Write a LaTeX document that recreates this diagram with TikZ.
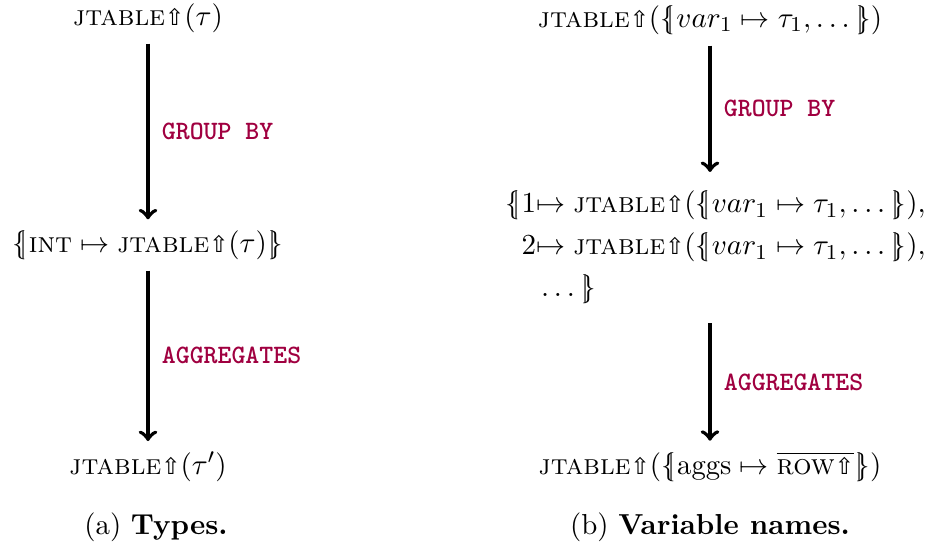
\documentclass[tikz,border=0pt]{standalone}
\usepackage{amsmath}
\usepackage{fontspec}
\newfontfamily\djv{DejaVu Sans}
\definecolor{kw}{RGB}{160,0,64}
\newcommand{\upar}{{\djv\fontsize{8.6}{8.6}\selectfont ⇧}}
\newcommand{\lbg}{\{\mkern-5mu|\mkern1mu}
\newcommand{\rbg}{\mkern1mu|\mkern-5mu\}}
\newcommand{\jt}{\text{\textsc{jtable}\upar}}
\tikzset{
  txt/.style={inner xsep=0pt, inner ysep=4pt, font=\fontsize{10.8}{13}\selectfont},
  arr/.style={->, line width=1.5pt},
  lbl/.style={right, inner xsep=4.5pt, text=kw, font=\fontsize{10}{12}\selectfont\ttfamily\bfseries},
  captxt/.style={inner sep=0pt, font=\fontsize{10.9}{13}\selectfont}
}
\begin{document}
\begin{tikzpicture}[x=0.377pt, y=-0.377pt]
\useasboundingbox (0,0) rectangle (927,557);
% left
\node[txt] (a1) at (148,18) {$\jt(\tau)$};
\node[txt] (a2) at (148,245) {$\lbg\text{\textsc{int}}\mapsto\jt(\tau)\rbg$};
\node[txt] (a3) at (148,467) {$\jt(\tau')$};
\draw[arr] (a1) -- (a2) node[lbl, midway] {GROUP BY};
\draw[arr] (a2) -- (a3) node[lbl, midway] {AGGREGATES};
\node[captxt] (ca) at (156,527) {(a) \textbf{Types.}};
% right
\node[txt] (b1) at (710,20) {$\jt(\lbg var_1\mapsto\tau_1,\dots\rbg)$};
\node[txt, inner ysep=7pt, anchor=north west, align=left, font=\fontsize{10.8}{15.8}\selectfont] (b2) at (505,172)
  {$\lbg 1{\mapsto}\;\jt(\lbg var_1\mapsto\tau_1,\dots\rbg),$\\
   $\phantom{\lbg}2{\mapsto}\;\jt(\lbg var_1\mapsto\tau_1,\dots\rbg),$\\
   $\phantom{\lbg 1}\dots\rbg$};
\node[txt] (b3) at (710,467) {$\jt(\lbg\mathrm{aggs}\mapsto\overline{\text{\textsc{row}\upar}}\rbg)$};
\draw[arr] (b1) -- (b1 |- b2.north) node[lbl, midway] {GROUP BY};
\draw[arr] (b1 |- b2.south) -- (b3) node[lbl, midway] {AGGREGATES};
\node[captxt] (cb) at (710,527) {(b) \textbf{Variable names.}};
\end{tikzpicture}
\end{document}
